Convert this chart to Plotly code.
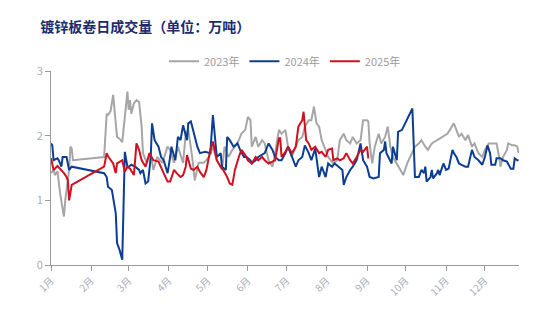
import plotly.graph_objects as go

# Daily galvanized sheet/coil turnover (10k tonnes), plotted on a common calendar year
dates_2023 = ["01-01", "01-03", "01-04", "01-06", "01-08", "01-09", "01-11", "01-12", "01-13", "01-15",
              "01-16", "01-17", "01-18", "02-11", "02-13", "02-14", "02-16", "02-17", "02-18", "02-20",
              "02-21", "02-23", "02-25", "02-27", "02-29", "03-01", "03-02", "03-03", "03-05", "03-07",
              "03-09", "03-11", "03-12", "03-15", "03-18", "03-20", "03-23", "03-27", "03-31", "04-02",
              "04-05", "04-08", "04-12", "04-14", "04-16", "04-19", "04-21", "04-24", "04-28", "05-02",
              "05-05", "05-08", "05-12", "05-14", "05-17", "05-20", "05-22", "05-25", "05-27", "05-30",
              "06-01", "06-03", "06-04", "06-07", "06-09", "06-12", "06-14", "06-17", "06-20", "06-22",
              "06-25", "06-27", "06-30", "07-02", "07-05", "07-08", "07-10", "07-13", "07-15", "07-18",
              "07-20", "07-22", "07-24", "07-26", "07-28", "07-31", "08-02", "08-06", "08-09", "08-11",
              "08-14", "08-16", "08-19", "08-21", "08-24", "08-27", "08-29", "09-01", "09-02", "09-03",
              "09-05", "09-07", "09-10", "09-12", "09-15", "09-17", "09-19", "09-21", "09-24", "09-27",
              "09-29", "10-02", "10-06", "10-08", "10-11", "10-13", "10-16", "10-18", "10-21", "10-25",
              "10-29", "11-02", "11-04", "11-07", "11-09", "11-11", "11-13", "11-16", "11-18", "11-21",
              "11-23", "11-26", "11-29", "12-01", "12-04", "12-06", "12-10", "12-12", "12-13", "12-15",
              "12-18", "12-19", "12-22", "12-24", "12-26", "12-27"]
vol_2023 = [1.42, 1.47, 1.39, 1.45, 1.11, 1.00, 0.75, 1.00, 1.16, 1.47,
            1.83, 1.80, 1.62, 1.67, 2.34, 2.32, 2.38, 2.50, 2.63, 2.19,
            1.98, 1.95, 1.90, 2.29, 2.68, 2.40, 2.55, 2.34, 2.50, 2.55,
            2.52, 2.14, 1.73, 1.58, 1.73, 1.47, 1.67, 1.58, 1.83, 1.78,
            1.58, 1.83, 1.58, 2.03, 2.09, 1.67, 1.31, 1.58, 1.58, 1.67,
            1.83, 1.62, 1.47, 1.83, 1.67, 1.78, 1.83, 1.93, 2.03, 2.09,
            2.29, 2.24, 1.83, 1.98, 1.83, 1.93, 1.88, 1.62, 1.52, 1.73,
            2.09, 2.03, 2.09, 1.83, 1.67, 1.83, 1.93, 1.98, 2.14, 2.24,
            2.24, 2.45, 2.19, 2.14, 1.93, 1.78, 1.67, 1.57, 1.62, 1.93,
            2.03, 1.93, 1.88, 1.98, 1.88, 1.93, 2.24, 2.24, 2.22, 1.88,
            1.57, 1.83, 2.03, 1.88, 1.98, 2.14, 1.83, 1.67, 1.57, 1.47,
            1.39, 1.57, 1.73, 1.83, 1.88, 1.93, 1.83, 1.78, 1.88, 1.93,
            1.98, 2.03, 2.09, 2.19, 2.09, 1.98, 2.03, 1.93, 2.01, 1.83,
            1.88, 1.73, 1.67, 1.78, 1.88, 1.88, 1.88, 1.67, 1.52, 1.67,
            1.78, 1.88, 1.85, 1.85, 1.83, 1.73]

dates_2024 = ["01-01", "01-02", "01-03", "01-06", "01-07", "01-09", "01-10", "01-13", "01-15", "01-17",
              "02-11", "02-13", "02-14", "02-17", "02-20", "02-21", "02-23", "02-25", "02-26", "02-27",
              "02-29", "03-01", "03-03", "03-06", "03-09", "03-10", "03-12", "03-14", "03-16", "03-18",
              "03-19", "03-21", "03-24", "03-26", "03-28", "03-31", "04-02", "04-03", "04-06", "04-08",
              "04-10", "04-12", "04-15", "04-16", "04-18", "04-20", "04-23", "04-25", "04-29", "05-03",
              "05-05", "05-08", "05-11", "05-12", "05-15", "05-16", "05-18", "05-21", "05-24", "05-26",
              "05-29", "05-31", "06-03", "06-04", "06-07", "06-09", "06-12", "06-14", "06-17", "06-20",
              "06-22", "06-25", "06-27", "06-30", "07-02", "07-05", "07-08", "07-10", "07-13", "07-15",
              "07-18", "07-20", "07-23", "07-26", "07-28", "07-31", "08-02", "08-05", "08-07", "08-10",
              "08-13", "08-14", "08-16", "08-19", "08-21", "08-24", "08-27", "08-29", "09-01", "09-03",
              "09-06", "09-10", "09-11", "09-14", "09-15", "09-16", "09-19", "09-20", "09-21", "09-24",
              "09-25", "09-28", "10-06", "10-07", "10-08", "10-11", "10-13", "10-15", "10-16", "10-17",
              "10-20", "10-21", "10-22", "10-25", "10-26", "10-27", "10-30", "11-01", "11-03", "11-06",
              "11-07", "11-09", "11-11", "11-13", "11-16", "11-18", "11-21", "11-23", "11-26", "11-29",
              "12-01", "12-03", "12-05", "12-06", "12-09", "12-10", "12-13", "12-15", "12-18", "12-21",
              "12-23", "12-24", "12-26", "12-27"]
vol_2024 = [1.88, 1.85, 1.62, 1.65, 1.62, 1.52, 1.67, 1.67, 1.47, 1.52,
            1.42, 1.36, 1.21, 1.16, 0.80, 0.34, 0.23, 0.08, 0.90, 1.75,
            1.52, 1.52, 1.55, 1.52, 1.47, 1.42, 1.47, 1.26, 1.29, 1.67,
            2.19, 1.93, 1.83, 1.67, 1.62, 1.42, 1.67, 1.83, 1.62, 1.98,
            1.93, 2.16, 1.93, 2.19, 2.22, 2.05, 1.83, 1.73, 1.75, 1.73,
            2.32, 1.67, 1.73, 1.52, 1.47, 1.98, 1.93, 1.83, 1.88, 1.78,
            1.67, 1.67, 1.62, 1.57, 1.62, 1.67, 1.70, 1.73, 1.88, 1.78,
            1.67, 1.62, 1.62, 1.73, 1.83, 1.67, 1.52, 1.62, 1.67, 1.85,
            1.73, 1.62, 1.80, 1.36, 1.52, 1.36, 1.57, 1.52, 1.57, 1.52,
            1.47, 1.24, 1.36, 1.47, 1.52, 1.62, 1.88, 1.62, 1.52, 1.36,
            1.34, 1.36, 1.73, 1.78, 1.91, 1.73, 1.62, 1.57, 1.83, 1.62,
            2.06, 2.09, 2.42, 1.83, 1.36, 1.36, 1.47, 1.42, 1.52, 1.29,
            1.36, 1.47, 1.34, 1.42, 1.47, 1.39, 1.57, 1.47, 1.49, 1.78,
            1.73, 1.67, 1.57, 1.55, 1.52, 1.52, 1.78, 1.67, 1.62, 1.55,
            1.67, 1.85, 1.73, 1.55, 1.55, 1.65, 1.65, 1.62, 1.60, 1.49,
            1.49, 1.65, 1.62, 1.62]

dates_2025 = ["01-01", "01-03", "01-06", "01-08", "01-11", "01-13", "01-14", "01-15", "01-17", "02-11",
              "02-13", "02-14", "02-16", "02-18", "02-20", "02-21", "02-25", "02-27", "02-29", "03-02",
              "03-05", "03-07", "03-09", "03-11", "03-14", "03-17", "03-20", "03-24", "03-28", "03-31",
              "04-02", "04-05", "04-07", "04-10", "04-12", "04-14", "04-15", "04-18", "04-20", "04-23",
              "04-25", "04-28", "04-30", "05-03", "05-05", "05-08", "05-11", "05-13", "05-16", "05-18",
              "05-20", "05-22", "05-25", "05-27", "05-30", "06-01", "06-04", "06-07", "06-09", "06-12",
              "06-14", "06-17", "06-20", "06-22", "06-25", "06-26", "06-27", "06-30", "07-02", "07-05",
              "07-08", "07-10", "07-13", "07-14", "07-16", "07-18", "07-20", "07-23", "07-26", "07-28",
              "07-31", "08-02", "08-05", "08-06", "08-09", "08-11", "08-14", "08-16", "08-19", "08-21",
              "08-24", "08-27", "08-29", "09-01", "09-02"]
vol_2025 = [1.65, 1.47, 1.53, 1.49, 1.42, 1.36, 1.31, 1.00, 1.24, 1.52,
            1.73, 1.68, 1.62, 1.57, 1.42, 1.57, 1.62, 1.44, 1.52, 1.49,
            1.39, 1.88, 1.78, 1.62, 1.52, 1.73, 1.62, 1.60, 1.42, 1.29,
            1.29, 1.47, 1.42, 1.36, 1.39, 1.52, 1.70, 1.49, 1.47, 1.52,
            1.44, 1.36, 1.47, 1.78, 1.91, 1.62, 1.52, 1.47, 1.36, 1.26,
            1.24, 1.47, 1.67, 1.78, 1.70, 1.62, 1.57, 1.67, 1.62, 1.67,
            1.62, 1.57, 1.60, 1.62, 1.96, 1.96, 1.67, 1.75, 1.83, 1.73,
            1.83, 2.14, 2.24, 2.37, 1.93, 1.88, 1.78, 1.83, 1.73, 1.75,
            1.67, 1.78, 1.80, 1.62, 1.65, 1.62, 1.65, 1.73, 1.62, 1.57,
            1.67, 1.78, 1.75, 1.83, 1.65]

month_labels = [f"{m}月" for m in range(1, 13)]
series = [
    ("2023年", dates_2023, vol_2023, "#A6A6A6"),
    ("2024年", dates_2024, vol_2024, "#0B3D91"),
    ("2025年", dates_2025, vol_2025, "#D0101E"),
]

BASE_YEAR = "2024"
fig = go.Figure()
for name, md, vals, color in series:
    fig.add_trace(go.Scatter(
        x=[f"{BASE_YEAR}-{d}" for d in md], y=vals, name=name, mode="lines",
        line=dict(color=color, width=2),
    ))

axis_grey = "#9A9A9A"
label_grey = "#A8ADBA"
fig.update_layout(
    width=550, height=324,
    margin=dict(l=51, r=31, t=71, b=59),
    paper_bgcolor="white", plot_bgcolor="white",
    font=dict(family="Noto Sans CJK SC, Liberation Sans, sans-serif", size=11, color=label_grey),
    title=dict(
        text="<b>镀锌板卷日成交量（单位：万吨）</b>",
        x=0.073, xanchor="left", y=0.915, yanchor="middle",
        font=dict(family="Noto Sans CJK SC", size=14, color="#1C2B6E"),
    ),
    legend=dict(
        orientation="h", x=0.5, xanchor="center", y=1.05, yanchor="middle",
        font=dict(size=11, color="#9C9C9C"), itemwidth=30, tracegroupgap=0,
        bgcolor="rgba(0,0,0,0)",
    ),
    showlegend=True,
)
fig.update_xaxes(
    type="date",
    range=[f"{BASE_YEAR}-01-01", f"{BASE_YEAR}-12-27 08:00"],
    tickvals=[f"{BASE_YEAR}-{m:02d}-01" for m in range(1, 13)],
    ticktext=month_labels, tickangle=-45,
    showline=True, linecolor=axis_grey, linewidth=1,
    ticks="outside", ticklen=5, tickcolor=axis_grey,
    tickfont=dict(size=10, color=label_grey),
    showgrid=False, zeroline=False,
)
fig.update_yaxes(
    range=[0, 3], tickvals=[0, 1, 2, 3],
    showline=True, linecolor=axis_grey, linewidth=1,
    ticks="outside", ticklen=5, tickcolor=axis_grey,
    tickfont=dict(size=11, color=label_grey),
    showgrid=False, zeroline=False,
)

fig.write_html("out.html")
